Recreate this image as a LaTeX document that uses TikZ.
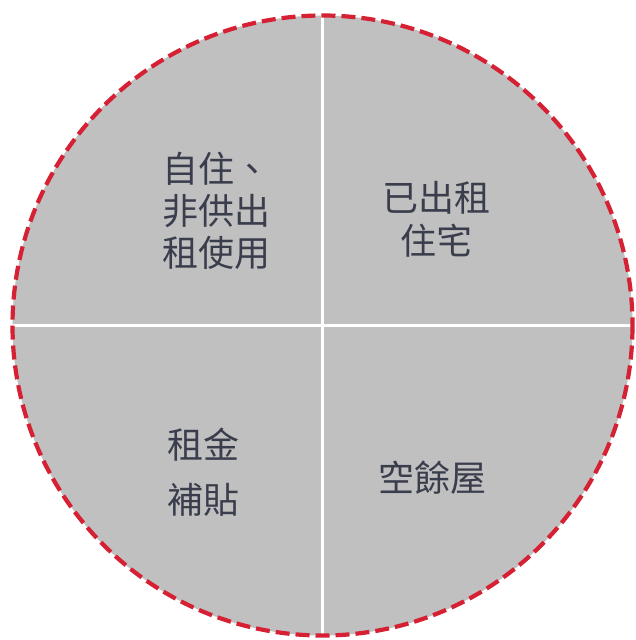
\documentclass[tikz,border=0pt]{standalone}
\usepackage{fontspec}
\usetikzlibrary{calc}
\newfontfamily\cjk{Noto Sans CJK TC}
\definecolor{pie}{RGB}{192,192,192}
\definecolor{rim}{RGB}{214,32,52}
\definecolor{ink}{RGB}{58,62,76}
\begin{document}
\begin{tikzpicture}[x=1pt,y=-1pt,
  lbl/.style={font=\cjk\fontsize{36}{43}\selectfont, text=ink, align=center, inner sep=0pt}]
\useasboundingbox (0,0) rectangle (635,640);
\fill[white] (0,0) rectangle (635,640);
\coordinate (c) at (322.5,325.5);
\fill[pie] (c) circle (310);
\draw[white, line width=3pt] ($(c)+(-310,0)$) -- ($(c)+(310,0)$);
\draw[white, line width=3pt] ($(c)+(0,-310)$) -- ($(c)+(0,310)$);
\draw[rim, line width=4.2pt, dash pattern=on 14pt off 6pt] (c) circle (310);
\node[lbl, font=\cjk\fontsize{36}{42}\selectfont] (q1) at (216,211) {自住、\\非供出\\租使用};
\node[lbl] (q2) at (436,219) {已出租\\住宅};
\node[lbl, font=\cjk\fontsize{36}{55}\selectfont] (q3) at (203,472) {租金\\補貼};
\node[lbl] (q4) at (432,478) {空餘屋};
\end{tikzpicture}
\end{document}
